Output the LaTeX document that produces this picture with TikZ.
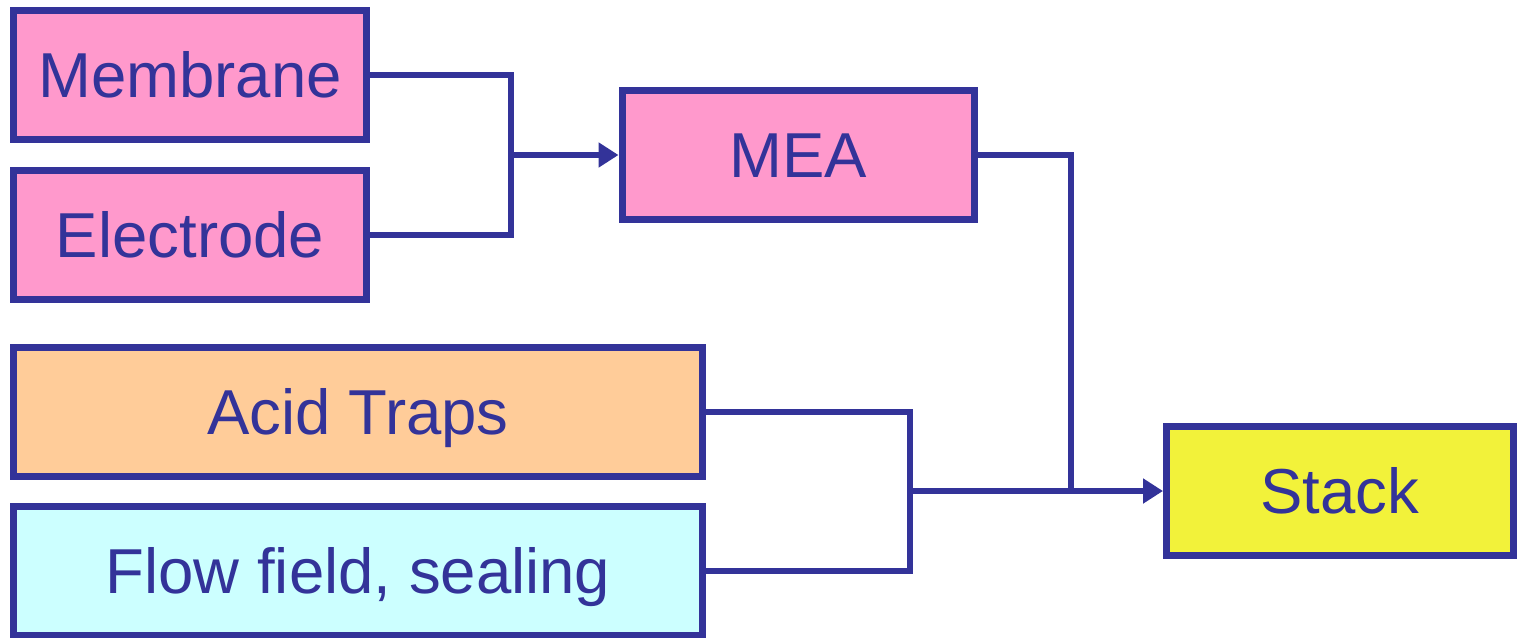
\documentclass[tikz,border=0pt]{standalone}
\usepackage{fontspec}
\setmainfont{Liberation Sans}
\usetikzlibrary{arrows.meta}
\definecolor{navy}{HTML}{333399}
\definecolor{pinkfill}{HTML}{FF99CC}
\definecolor{orangefill}{HTML}{FFCC99}
\definecolor{cyanfill}{HTML}{CCFFFF}
\definecolor{yellowfill}{HTML}{F2F23A}
\begin{document}
\begin{tikzpicture}[x=1pt,y=-1pt,
  box/.style={draw=navy, line width=7pt, text=navy,
    font=\fontsize{63.5}{70}\selectfont, inner sep=0pt,
    text height=45.7pt, text depth=0pt, minimum height=129pt},
  conn/.style={draw=navy, line width=6pt},
  arr/.style={conn, -{Triangle[length=20pt,width=24pt]}}]
\useasboundingbox (0,0) rectangle (1517,637);
\node[box, fill=pinkfill, minimum width=353pt] (mem) at (190,75) {Membrane};
\node[box, fill=pinkfill, minimum width=353pt] (el) at (190,235) {Electrode};
\node[box, fill=pinkfill, minimum width=352pt] (mea) at (798,155) {MEA};
\node[box, fill=orangefill, minimum width=689pt] (acid) at (358,411.5) {Acid Traps};
\node[box, fill=cyanfill, minimum width=689pt] (flow) at (358,570.5) {Flow field, sealing};
\node[box, fill=yellowfill, minimum width=347pt] (stack) at (1340,491) {Stack};
\coordinate (j1) at (511,155);
\coordinate (j2) at (910,491);
\coordinate (j3) at (1071,491);
\draw[conn] (mem.east) -| (j1);
\draw[conn] (el.east) -| (j1);
\draw[arr] (j1) -- (mea.west);
\draw[conn] (acid.east) -| (j2);
\draw[conn] (flow.east) -| (j2);
\draw[conn] (mea.east) -| (j3);
\draw[arr] (j2) -- (stack.west);
\end{tikzpicture}
\end{document}
